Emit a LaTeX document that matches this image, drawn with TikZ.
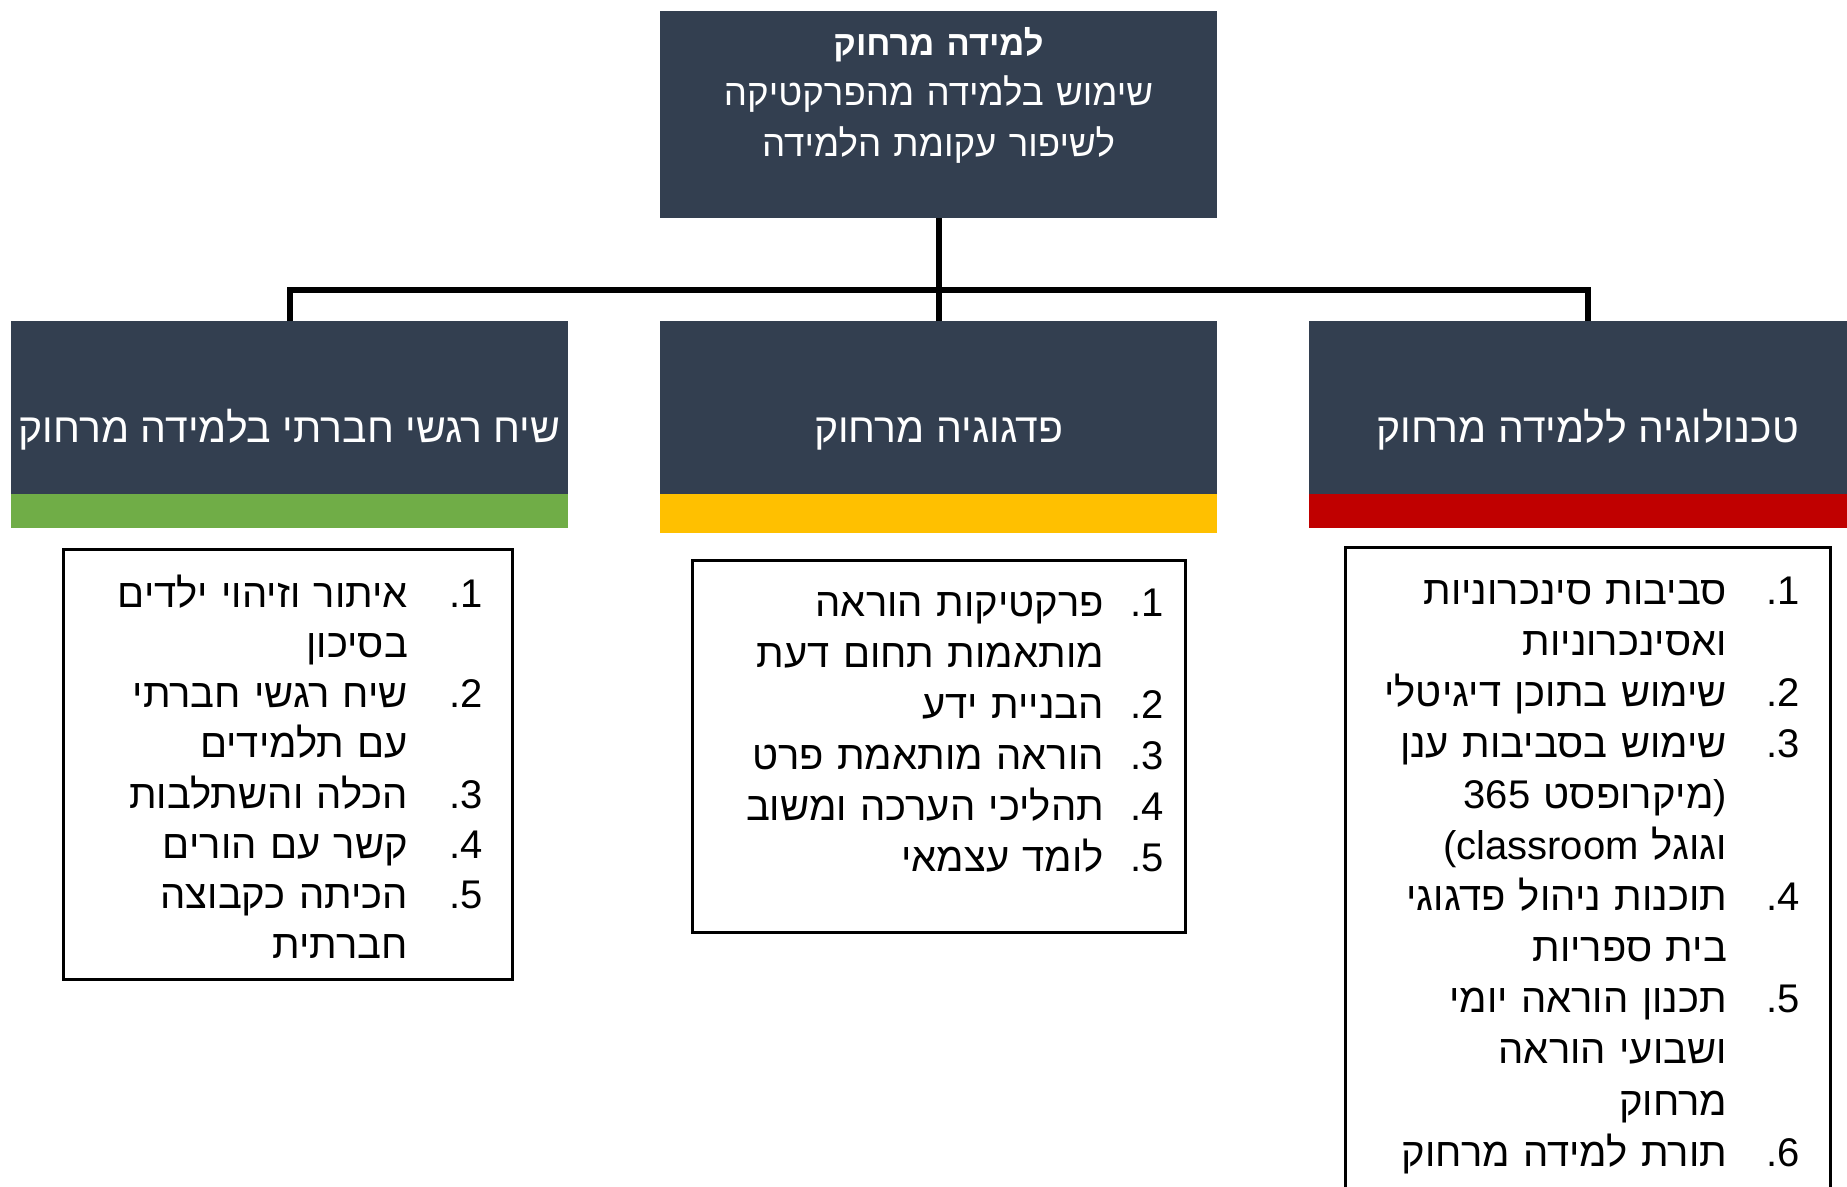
\documentclass[tikz,border=0pt]{standalone}
\usepackage{fontspec}
\setmainfont{Liberation Sans}
\newfontfamily\hebfont[Script=Hebrew]{Liberation Sans}
\TeXXeTstate=1
\usetikzlibrary{trees, positioning}

\definecolor{slate}{HTML}{333F50}
\definecolor{barGreen}{HTML}{70AD47}
\definecolor{barAmber}{HTML}{FFC000}
\definecolor{barRed}{HTML}{C00000}

\newcommand{\heb}[1]{\beginR #1\endR}
\newcommand{\itemno}[1]{\beginR #1\kern0pt.\endR}

\begin{document}
\begin{tikzpicture}[
    x=1pt, y=1pt,
    level distance=293pt,
    sibling distance=649pt,
    edge from parent/.style={draw, line width=6pt},
    edge from parent path={(\tikzparentnode.south) -- ++(0,-72) -| (\tikzchildnode.north)},
    every node/.style={inner sep=0pt, outer sep=0pt},
    rootbox/.style={
        fill=slate, text=white,
        text width=557pt, align=center,
        text height=44pt, text depth=163pt,
        font=\hebfont\fontsize{36.7}{50.5}\selectfont
    },
    headbox/.style={
        fill=slate, text=white,
        minimum width=557pt, minimum height=173pt,
        text height=75pt, text depth=6pt,
        font=\hebfont\fontsize{41}{50}\selectfont
    },
    bar/.style={minimum width=557pt, minimum height=34pt},
    listbox/.style={draw=black, line width=3pt},
    itemtext/.style={
        anchor=base east, text width=420pt, align=right,
        font=\hebfont\fontsize{40}{#1}\selectfont
    },
    itemnum/.style={anchor=base east, font=\hebfont\fontsize{40}{50}\selectfont},
]
  \path[use as bounding box] (0,0) rectangle (1847,-1186);
  \clip (0,0) rectangle (1847,-1186);

  % START OF TIKZ NODES

  \node[rootbox] (root) at (938.5,-114.5) {{\bfseries\fontsize{34.5}{50.5}\selectfont\heb{למידה מרחוק}}\\\heb{שימוש בלמידה מהפרקטיקה}\\\heb{לשיפור עקומת הלמידה}}
    child {
        node[headbox] (hdL) {\heb{שיח רגשי חברתי בלמידה מרחוק}}    }
    child {
        node[headbox] (hdM) {\heb{פדגוגיה מרחוק}}    }
    child {
        node[headbox] (hdR) {\heb{טכנולוגיה ללמידה מרחוק}}    }
  ; % End of the tree

  % colour bars under the branches
  \node[bar, fill=barGreen, below=0pt of hdL] (barL) {};
  \node[bar, fill=barAmber, minimum height=39pt, below=0pt of hdM] (barM) {};
  \node[bar, fill=barRed, below=0pt of hdR] (barR) {};

  % list frames
  \node[listbox, minimum width=449pt, minimum height=430pt, below=21pt of barL, xshift=-2pt] (lstL) {};
  \node[listbox, minimum width=493pt, minimum height=372pt, below=27pt of barM] (lstM) {};
  \node[listbox, minimum width=485pt, minimum height=700pt, below=19pt of barR] (lstR) {};

  % left list
  \node[itemnum] (nL1) at (483,-607) {\itemno{1}};
  \node[itemtext=50.2] (L1) at (408,-607) {\heb{איתור וזיהוי ילדים}\\\heb{בסיכון}};
  \node[itemnum] (nL2) at (483,-707.6) {\itemno{2}};
  \node[itemtext=50.2] (L2) at (408,-707.6) {\heb{שיח רגשי חברתי}\\\heb{עם תלמידים}};
  \node[itemnum] (nL3) at (483,-808) {\itemno{3}};
  \node[itemtext=50.2] (L3) at (408,-808) {\heb{הכלה והשתלבות}};
  \node[itemnum] (nL4) at (483,-858.2) {\itemno{4}};
  \node[itemtext=50.2] (L4) at (408,-858.2) {\heb{קשר עם הורים}};
  \node[itemnum] (nL5) at (483,-908.4) {\itemno{5}};
  \node[itemtext=50.2] (L5) at (408,-908.4) {\heb{הכיתה כקבוצה}\\\heb{חברתית}};

  % middle list
  \node[itemnum] (nM1) at (1164,-616) {\itemno{1}};
  \node[itemtext=51] (M1) at (1104,-616) {\heb{פרקטיקות הוראה}\\\heb{מותאמות תחום דעת}};
  \node[itemnum] (nM2) at (1164,-718) {\itemno{2}};
  \node[itemtext=51] (M2) at (1104,-718) {\heb{הבניית ידע}};
  \node[itemnum] (nM3) at (1164,-769) {\itemno{3}};
  \node[itemtext=51] (M3) at (1104,-769) {\heb{הוראה מותאמת פרט}};
  \node[itemnum] (nM4) at (1164,-820) {\itemno{4}};
  \node[itemtext=51] (M4) at (1104,-820) {\heb{תהליכי הערכה ומשוב}};
  \node[itemnum] (nM5) at (1164,-871) {\itemno{5}};
  \node[itemtext=51] (M5) at (1104,-871) {\heb{לומד עצמאי}};

  % right list
  \node[itemnum] (nR1) at (1800,-604) {\itemno{1}};
  \node[itemtext=51.1] (R1) at (1727,-604) {\heb{סביבות סינכרוניות}\\\heb{ואסינכרוניות}};
  \node[itemnum] (nR2) at (1800,-706.2) {\itemno{2}};
  \node[itemtext=51.1] (R2) at (1727,-706.2) {\heb{שימוש בתוכן דיגיטלי}};
  \node[itemnum] (nR3) at (1800,-757.3) {\itemno{3}};
  \node[itemtext=51.1] (R3) at (1727,-757.3) {\heb{שימוש בסביבות ענן}\\\heb{(מיקרופסט \beginL 365\endL}\\\heb{וגוגל \beginL classroom\endL)}};
  \node[itemnum] (nR4) at (1800,-910.6) {\itemno{4}};
  \node[itemtext=51.1] (R4) at (1727,-910.6) {\heb{תוכנות ניהול פדגוגי}\\\heb{בית ספריות}};
  \node[itemnum] (nR5) at (1800,-1012.8) {\itemno{5}};
  \node[itemtext=51.1] (R5) at (1727,-1012.8) {\heb{תכנון הוראה יומי}\\\heb{ושבועי הוראה}\\\heb{מרחוק}};
  \node[itemnum] (nR6) at (1800,-1166.1) {\itemno{6}};
  \node[itemtext=51.1] (R6) at (1727,-1166.1) {\heb{תורת למידה מרחוק}};

\end{tikzpicture}
\end{document}
